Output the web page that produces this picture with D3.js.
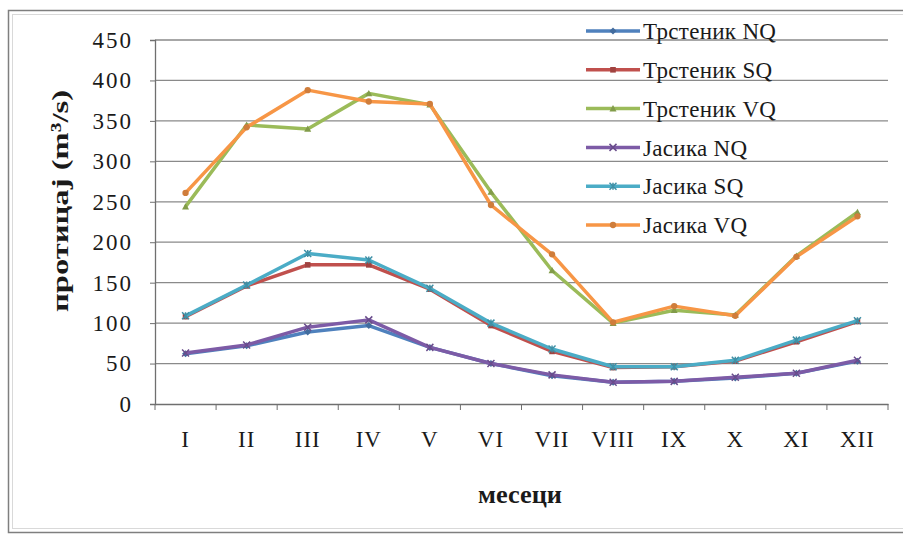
<!DOCTYPE html>
<html><head><meta charset="utf-8">
<script src="https://cdn.jsdelivr.net/npm/d3@7"></script>
<style>body{margin:0;background:#fff}svg{display:block}
svg text{font-family:'Liberation Serif','DejaVu Serif','Times New Roman',serif !important;fill:#1a1a1a}</style>
</head><body>
<svg id="c" width="903" height="535"></svg>
<script>
const months = ["I","II","III","IV","V","VI","VII","VIII","IX","X","XI","XII"];
const yTicks = [0,50,100,150,200,250,300,350,400,450];
const seriesNames = ["Трстеник NQ","Трстеник SQ","Трстеник VQ","Јасика NQ","Јасика SQ","Јасика VQ"];
const trstenikNQ = [62,72,89,97,70,50,35,27,28,32,38,53];
const trstenikSQ = [108,146,172,172,142,97,65,45,46,53,77,102];
const trstenikVQ = [244,345,340,384,370,262,165,100,116,110,183,237];
const jasikaNQ   = [63,73,95,104,70,50,36,27,28,33,38,54];
const jasikaSQ   = [109,147,186,178,143,100,68,46,46,54,79,103];
const jasikaVQ   = [261,342,388,374,371,246,185,101,121,109,182,232];
const seriesData = [trstenikNQ,trstenikSQ,trstenikVQ,jasikaNQ,jasikaSQ,jasikaVQ];
const colors = ["#4F81BD","#C0504D","#9BBB59","#7d5ba6","#4BACC6","#F79646"];
const markers = ["diamond","square","triangle","x","star","circle"];
const FONT = "'Liberation Serif','DejaVu Serif','Times New Roman',serif";

const svg = d3.select("#c");
svg.append("rect").attr("x",8.5).attr("y",10.5).attr("width",900).attr("height",522)
  .attr("fill","#fff").attr("stroke","#7f7f7f").attr("stroke-width",1.5);
svg.append("rect").attr("x",12.5).attr("y",14.5).attr("width",900).attr("height",514)
  .attr("fill","none").attr("stroke","#d9d9d9").attr("stroke-width",1);

const L=155, R=888, T=40, B=404;
const x = d3.scaleBand().domain(months).range([L,R]);
const y = d3.scaleLinear().domain([0,450]).range([B,T]);

svg.append("g").selectAll("line").data(yTicks.filter(d=>d>0)).join("line")
  .attr("x1",L).attr("x2",R).attr("y1",d=>y(d)).attr("y2",d=>y(d))
  .attr("stroke","#8a8a8a").attr("stroke-width",1.3);

const ya = svg.append("g").attr("transform",`translate(${L},0)`)
  .call(d3.axisLeft(y).tickValues(yTicks).tickSize(5).tickPadding(17));
ya.attr("font-family",FONT);
ya.select(".domain").attr("stroke","#6f6f6f").attr("stroke-width",1.3);
ya.selectAll(".tick line").attr("stroke","#6f6f6f");
ya.selectAll("text").style("font-family",FONT).attr("font-size",23)
  .style("letter-spacing","2px").attr("fill",null);

const xa = svg.append("g").attr("transform",`translate(0,${B})`)
  .call(d3.axisBottom(x).tickSize(0).tickPadding(27));
xa.attr("font-family",FONT);
xa.select(".domain").attr("stroke","#6f6f6f").attr("stroke-width",1.3);
xa.selectAll("text").style("font-family",FONT).attr("font-size",23)
  .style("letter-spacing","1px").attr("fill",null);
svg.append("g").selectAll("line").data(d3.range(months.length+1)).join("line")
  .attr("x1",i=>L+i*x.bandwidth()).attr("x2",i=>L+i*x.bandwidth())
  .attr("y1",B).attr("y2",B+6).attr("stroke","#6f6f6f").attr("stroke-width",1);

svg.append("text").attr("transform",`translate(68,201) rotate(-90)`)
  .attr("text-anchor","middle").attr("font-size",24).attr("font-weight","bold")
  .style("font-family",FONT)
  .attr("textLength",222).attr("lengthAdjust","spacingAndGlyphs")
  .text("протицај (m³/s)");
svg.append("text").attr("x",520).attr("y",503)
  .attr("text-anchor","middle").attr("font-size",25).attr("font-weight","bold")
  .style("font-family",FONT)
  .attr("textLength",84).attr("lengthAdjust","spacingAndGlyphs")
  .text("месеци");

function drawMarker(g, type, color, cx, cy, s){
  const m = g.append("g").attr("transform",`translate(${cx},${cy})`);
  if(type==="diamond") m.append("path").attr("d",`M0,${-s}L${s},0L0,${s}L${-s},0Z`).attr("fill",color);
  else if(type==="square") m.append("rect").attr("x",-s*0.8).attr("y",-s*0.8).attr("width",s*1.6).attr("height",s*1.6).attr("fill",color);
  else if(type==="triangle") m.append("path").attr("d",`M0,${-s}L${s},${s*0.8}L${-s},${s*0.8}Z`).attr("fill",color);
  else if(type==="x") m.append("path").attr("d",`M${-s},${-s}L${s},${s}M${-s},${s}L${s},${-s}`).attr("stroke",color).attr("stroke-width",1.5);
  else if(type==="star") m.append("path").attr("d",`M${-s},${-s}L${s},${s}M${-s},${s}L${s},${-s}M0,${-s}L0,${s}`).attr("stroke",color).attr("stroke-width",1.5);
  else m.append("circle").attr("r",s*0.9).attr("fill",color);
}

const line = d3.line().x((d,i)=>x(months[i])+x.bandwidth()/2).y(d=>y(d));
seriesData.forEach((data,k)=>{
  const g = svg.append("g");
  g.append("path").datum(data).attr("d",line).attr("fill","none")
    .attr("stroke",colors[k]).attr("stroke-width",3.5).attr("stroke-linejoin","round");
  data.forEach((d,i)=>drawMarker(g, markers[k], d3.color(colors[k]).darker(0.5), x(months[i])+x.bandwidth()/2, y(d), 3.5));
});

const lg = svg.append("g");
seriesNames.forEach((n,k)=>{
  const yy = 31 + k*38.8;
  lg.append("line").attr("x1",586).attr("x2",640).attr("y1",yy).attr("y2",yy)
    .attr("stroke",colors[k]).attr("stroke-width",3.5);
  drawMarker(lg, markers[k], d3.color(colors[k]).darker(0.5), 613, yy, 3.5);
  lg.append("text").attr("x",643).attr("y",yy).attr("dy","0.36em")
    .style("font-family",FONT).attr("font-size",23).style("letter-spacing","0.3px").text(n);
});
</script>
</body></html>
